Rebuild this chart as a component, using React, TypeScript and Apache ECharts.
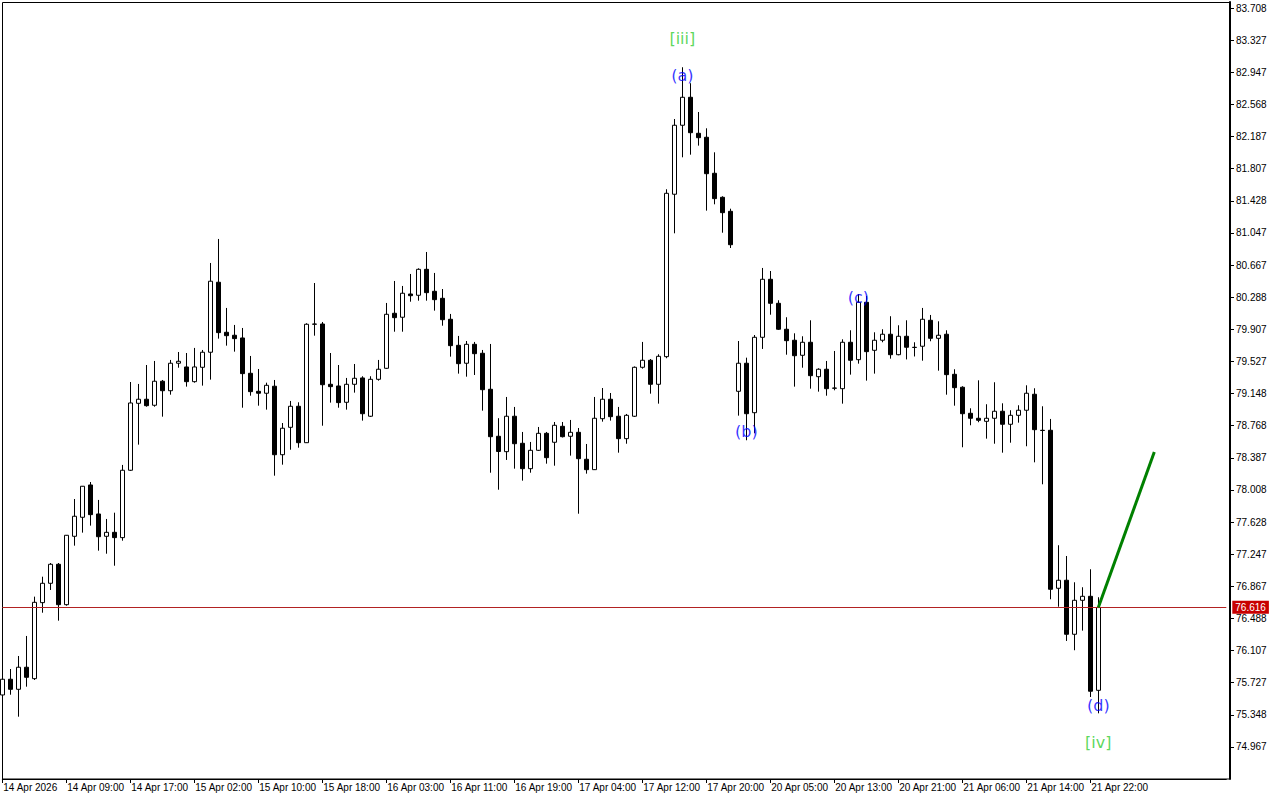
import { useEffect, useRef } from 'react';
import * as echarts from 'echarts';

// ---- data (H1 candles) ----
const opens = [
  75.582, 75.768, 75.649, 75.910, 75.775, 76.674, 76.903, 77.128, 76.650, 77.459,
  77.684, 78.066, 77.723, 77.459, 77.506, 77.443, 78.240, 79.032, 79.080, 79.009,
  79.293, 79.181, 79.506, 79.462, 79.288, 79.458, 79.636, 80.464, 79.872, 79.837,
  79.805, 79.387, 79.174, 79.151, 79.234, 78.424, 78.748, 78.997, 78.566, 79.967,
  79.970, 79.257, 79.237, 79.044, 79.257, 79.332, 78.879, 79.316, 79.446, 80.097,
  80.050, 80.325, 80.310, 80.617, 80.357, 80.274, 80.026, 79.718, 79.506, 79.730,
  79.624, 79.198, 78.642, 78.460, 78.879, 78.559, 78.259, 78.476, 78.677, 78.571,
  78.760, 78.642, 78.689, 78.370, 78.247, 78.850, 79.080, 78.879, 78.614, 78.879,
  79.458, 79.541, 79.257, 79.584, 81.505, 82.321, 82.652, 82.226, 82.179, 81.753,
  81.469, 81.303, 79.174, 79.506, 78.921, 79.813, 80.499, 80.215, 79.908, 79.778,
  79.600, 79.754, 79.347, 79.435, 79.210, 79.205, 79.754, 79.548, 80.227, 79.659,
  79.778, 79.849, 79.607, 79.825, 79.692, 79.707, 80.014, 79.801, 79.849, 79.375,
  79.222, 78.914, 78.855, 78.819, 78.855, 78.938, 78.784, 78.890, 78.950, 79.139,
  78.713, 78.713, 76.844, 76.939, 76.300, 76.702, 76.749, 75.637,
];
const closes = [
  75.768, 75.649, 75.910, 75.791, 76.678, 76.903, 77.128, 76.650, 77.471, 77.696,
  78.051, 77.715, 77.454, 77.506, 77.443, 78.240, 79.036, 79.080, 79.004, 79.293,
  79.181, 79.506, 79.529, 79.288, 79.462, 79.636, 80.476, 79.868, 79.832, 79.797,
  79.383, 79.170, 79.151, 79.245, 78.424, 78.737, 78.997, 78.566, 79.967, 79.970,
  79.252, 79.229, 79.040, 79.257, 79.328, 78.909, 79.316, 79.435, 80.085, 80.045,
  80.334, 80.305, 80.617, 80.341, 80.258, 80.021, 79.714, 79.501, 79.730, 79.619,
  79.193, 78.637, 78.462, 78.879, 78.554, 78.259, 78.476, 78.677, 78.389, 78.772,
  78.637, 78.689, 78.377, 78.247, 78.855, 79.080, 78.874, 78.614, 78.890, 79.458,
  79.541, 79.257, 79.588, 81.516, 82.321, 82.652, 82.233, 82.174, 81.748, 81.453,
  81.287, 80.908, 79.506, 78.909, 79.813, 80.499, 80.215, 79.908, 79.773, 79.595,
  79.754, 79.359, 79.435, 79.205, 79.213, 79.754, 79.541, 80.227, 79.643, 79.778,
  79.849, 79.607, 79.825, 79.695, 79.695, 80.026, 79.801, 79.837, 79.371, 79.217,
  78.909, 78.855, 78.831, 78.855, 78.938, 78.784, 78.890, 78.950, 79.151, 78.720,
  78.710, 76.832, 76.939, 76.300, 76.702, 76.749, 75.626, 76.616,
];
const lows = [
  75.558, 75.585, 75.325, 75.680, 75.759, 76.555, 76.824, 76.461, 76.638, 77.348,
  77.502, 77.585, 77.289, 77.253, 77.111, 77.407, 78.232, 78.543, 78.992, 78.992,
  78.874, 79.134, 79.453, 79.229, 79.276, 79.241, 79.312, 79.797, 79.714, 79.643,
  78.980, 79.122, 79.004, 78.957, 78.176, 78.306, 78.483, 78.507, 78.563, 79.832,
  78.767, 79.040, 78.980, 78.957, 79.158, 78.827, 78.870, 79.300, 79.438, 79.879,
  79.879, 80.234, 80.246, 80.246, 80.128, 79.950, 79.584, 79.383, 79.347, 79.367,
  78.945, 78.211, 78.010, 78.362, 78.259, 78.117, 78.211, 78.468, 78.318, 78.294,
  78.628, 78.413, 77.726, 78.200, 78.243, 78.815, 78.827, 78.448, 78.554, 78.870,
  79.442, 79.146, 79.028, 79.565, 81.043, 81.942, 81.973, 82.080, 81.311, 81.386,
  81.050, 80.869, 78.886, 78.595, 78.677, 79.675, 80.080, 79.899, 79.607, 79.229,
  79.453, 79.205, 79.170, 79.122, 79.186, 79.028, 79.371, 79.501, 79.300, 79.383,
  79.754, 79.560, 79.600, 79.551, 79.586, 79.536, 79.766, 79.418, 79.134, 79.004,
  78.512, 78.772, 78.808, 78.614, 78.554, 78.448, 78.566, 78.803, 78.524, 78.334,
  78.074, 76.714, 76.626, 76.221, 76.111, 76.343, 75.558, 75.365,
];
const highs = [
  75.795, 75.889, 76.043, 76.280, 76.745, 76.981, 77.143, 77.143, 77.474, 77.900,
  78.054, 78.101, 77.889, 77.664, 77.738, 78.303, 79.284, 79.261, 79.485, 79.533,
  79.308, 79.545, 79.639, 79.627, 79.687, 79.663, 80.692, 80.976, 80.160, 79.959,
  79.923, 79.592, 79.438, 79.276, 79.308, 78.799, 79.060, 79.044, 79.979, 80.455,
  79.994, 79.627, 79.485, 79.332, 79.497, 79.352, 79.352, 79.545, 80.219, 80.479,
  80.420, 80.562, 80.629, 80.822, 80.574, 80.384, 80.089, 79.829, 79.769, 79.758,
  79.663, 79.734, 78.856, 79.107, 78.989, 78.693, 78.575, 78.752, 78.693, 78.811,
  78.811, 78.835, 78.740, 78.551, 79.107, 79.213, 79.154, 78.989, 78.906, 79.468,
  79.758, 79.556, 79.612, 81.564, 82.395, 83.007, 82.818, 82.478, 82.285, 82.001,
  81.481, 81.334, 79.769, 79.572, 79.840, 80.633, 80.597, 80.251, 80.050, 79.860,
  79.825, 80.014, 79.446, 79.533, 79.651, 79.789, 79.896, 80.325, 80.302, 79.872,
  79.908, 80.062, 79.955, 80.014, 79.754, 80.160, 80.077, 80.002, 79.896, 79.435,
  79.234, 78.973, 79.304, 79.021, 79.281, 79.032, 78.950, 79.009, 79.245, 79.210,
  78.997, 78.847, 77.353, 77.226, 76.915, 76.856, 77.069, 76.738,
];

const xTickLabels = [
  '14 Apr 2026', '14 Apr 09:00', '14 Apr 17:00', '15 Apr 02:00', '15 Apr 10:00',
  '15 Apr 18:00', '16 Apr 03:00', '16 Apr 11:00', '16 Apr 19:00', '17 Apr 04:00',
  '17 Apr 12:00', '17 Apr 20:00', '20 Apr 05:00', '20 Apr 13:00', '20 Apr 21:00',
  '21 Apr 06:00', '21 Apr 14:00', '21 Apr 22:00',
];
const yTicks = [
  83.708, 83.327, 82.947, 82.568, 82.187, 81.807, 81.428, 81.047, 80.667, 80.288,
  79.907, 79.527, 79.148, 78.768, 78.387, 78.008, 77.628, 77.247, 76.867, 76.488,
  76.107, 75.727, 75.348, 74.967,
];
const lastPrice = 76.616;

// projection line (bar index, price)
const projBars = [137, 144];
const projPrices = [76.616, 78.456];

// wave labels
const annTexts = ['[iii]', '(a)', '(b)', '(c)', '(d)', '[iv]'];
const annBars = [85, 85, 93, 107, 137, 137];
const annPrices = [83.353, 82.904, 78.693, 80.278, 75.463, 75.014];
const annKinds = ['major', 'minor', 'minor', 'minor', 'minor', 'major'];

const CATEGORY_COUNT = 154;
const LABEL_STEP = 8;
const categories = Array.from({ length: CATEGORY_COUNT }, (_, i) => String(i));

const FONT = 'Liberation Sans';

export default function App() {
  const ref = useRef<HTMLDivElement>(null);

  useEffect(() => {
    if (!ref.current) return;
    const chart = echarts.init(ref.current, null, { renderer: 'svg' });
    const candles = opens.map((o, i) => [o, closes[i], lows[i], highs[i]]);
    const showTick = (i: number) => i % LABEL_STEP === 0 && i / LABEL_STEP < xTickLabels.length;

    chart.setOption({
      animation: false,
      backgroundColor: '#ffffff',
      grid: { left: 2.3, right: 53.7, top: 2, bottom: 21, containLabel: false },
      xAxis: {
        type: 'category',
        data: categories,
        boundaryGap: false,
        axisLine: { show: true, lineStyle: { color: '#000', width: 1 } },
        axisTick: { show: true, length: 4, interval: showTick, lineStyle: { color: '#000' } },
        axisLabel: {
          interval: showTick,
          formatter: (_v: string, i: number) => xTickLabels[i / LABEL_STEP] ?? '',
          align: 'left',
          margin: 3,
          padding: [0, 0, 0, 1],
          fontFamily: FONT,
          fontSize: 10,
          color: '#000',
        },
        splitLine: { show: false },
      },
      yAxis: {
        type: 'value',
        position: 'right',
        offset: 3.7,
        min: 74.588,
        max: 83.779,
        axisLine: { show: true, lineStyle: { color: '#000', width: 2 } },
        axisTick: { show: true, length: 4, customValues: yTicks, lineStyle: { color: '#000' } },
        axisLabel: {
          customValues: yTicks,
          formatter: (v: number) => v.toFixed(3),
          margin: 6,
          fontFamily: FONT,
          fontSize: 10,
          color: '#000',
        },
        splitLine: { show: false },
      },
      graphic: [
        {
          type: 'rect',
          silent: true,
          shape: { x: 2.5, y: 2.5, width: 1227, height: 776.5 },
          style: { fill: 'none', stroke: '#000', lineWidth: 1 },
        },
      ],
      series: [
        {
          type: 'candlestick',
          data: candles,
          barWidth: 4,
          itemStyle: {
            color: '#ffffff',
            color0: '#000000',
            borderColor: '#000000',
            borderColor0: '#000000',
            borderWidth: 1,
          },
          markLine: {
            silent: true,
            symbol: ['none', 'none'],
            animation: false,
            data: [{ yAxis: lastPrice }],
            lineStyle: { color: '#b22222', width: 1, type: 'solid' },
            label: {
              show: true,
              position: 'end',
              distance: 6,
              formatter: lastPrice.toFixed(3),
              backgroundColor: '#c80000',
              color: '#ffffff',
              padding: [2, 3, 1, 3],
              fontFamily: FONT,
              fontSize: 10,
            },
          },
        },
        {
          type: 'line',
          data: projBars.map((b, i) => [b, projPrices[i]]),
          symbol: 'none',
          z: 5,
          lineStyle: { color: '#008000', width: 3 },
        },
        {
          type: 'scatter',
          symbolSize: 0,
          z: 6,
          data: annTexts.map((t, i) => ({
            name: t,
            value: [annBars[i], annPrices[i]],
            label: { color: annKinds[i] === 'major' ? '#32cd32' : '#0000ff' },
          })),
          label: {
            show: true,
            position: 'inside',
            formatter: (p: any) => p.name,
            fontFamily: 'DejaVu Sans',
            fontSize: 16,
          },
        },
      ],
    });

    return () => chart.dispose();
  }, []);

  return (
    <div
      ref={ref}
      style={{ position: 'absolute', left: 0, top: 0, width: 1280, height: 800, background: '#fff' }}
    />
  );
}
